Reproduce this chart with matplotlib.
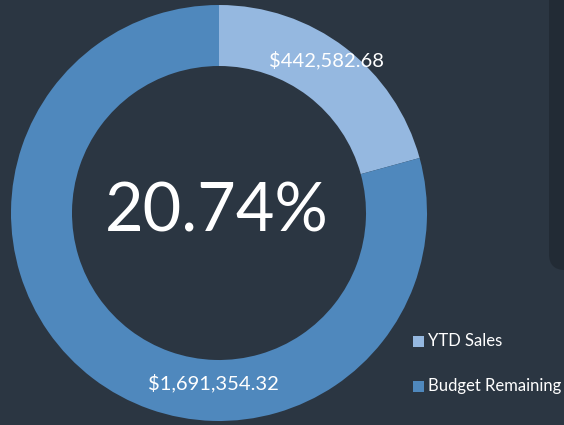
import matplotlib
matplotlib.use("Agg")
import matplotlib.pyplot as plt
from matplotlib.patches import FancyBboxPatch, Rectangle

labels = ["YTD Sales", "Budget Remaining"]
values = [442582.68, 1691354.32]
colors = ["#95b8e0", "#4f88bd"]
bg = "#2b3642"
panel = "#222b35"

plt.rcParams['font.family'] = ['Lato', 'DejaVu Sans']

fig = plt.figure(figsize=(5.64, 4.25), dpi=100, facecolor=bg)
ax = fig.add_axes([0, 0, 1, 1])
ax.set_facecolor(bg)

# dark side panel
ax.add_patch(FancyBboxPatch((549, 155), 60, 320, boxstyle="round,pad=0,rounding_size=16",
                            facecolor=panel, edgecolor='none', zorder=0))

cx, cy, R, W = 219, 212, 208, 61
wedges, _ = ax.pie(values, colors=colors, startangle=90, counterclock=False,
                   center=(cx, cy), radius=R, wedgeprops=dict(width=W, linewidth=0),
                   frame=True)
ax.set_xlim(0, 564)
ax.set_ylim(0, 425)
ax.set_aspect('equal')
ax.axis('off')

total = sum(values)
ax.text(cx - 2, cy + 1, f"{values[0]/total*100:.2f}%", color="white", fontsize=48,
        ha='center', va='center')
ax.text(326, 425 - 60, f"${values[0]:,.2f}", color="white", fontsize=14.5, ha='center', va='center')
ax.text(213, 425 - 383, f"${values[1]:,.2f}", color="white", fontsize=14.5, ha='center', va='center')

# legend
for i, (lab, col) in enumerate(zip(labels, colors)):
    y = 425 - (341 + i * 45)
    ax.add_patch(Rectangle((413, y - 5.5), 11, 11, facecolor=col, edgecolor='none'))
    ax.text(428, y, lab, color="white", fontsize=12, ha='left', va='center')

fig.savefig("out.png", dpi=100, facecolor=bg)
